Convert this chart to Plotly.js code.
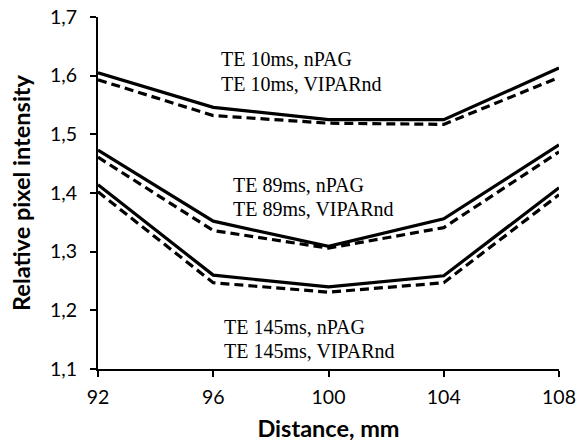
<!DOCTYPE html>
<html>
<head>
<meta charset="utf-8">
<script src="https://cdn.plot.ly/plotly-3.0.1.min.js"></script>
<style>
  html, body { margin: 0; padding: 0; background: #fff; }
  #chart { width: 584px; height: 443px; }
</style>
</head>
<body>
<div id="chart"></div>
<script>
// Relative pixel intensity profiles across the gel, per echo time and gel type
const distance = [92, 96, 100, 104, 108];

const te10_nPAG     = [1.605, 1.546, 1.525, 1.525, 1.613];
const te10_VIPARnd  = [1.593, 1.532, 1.519, 1.517, 1.597];
const te89_nPAG     = [1.473, 1.352, 1.309, 1.356, 1.482];
const te89_VIPARnd  = [1.461, 1.336, 1.306, 1.341, 1.470];
const te145_nPAG    = [1.414, 1.260, 1.240, 1.259, 1.409];
const te145_VIPARnd = [1.402, 1.247, 1.231, 1.247, 1.397];

const xTicks = [92, 96, 100, 104, 108];
const yTicks = [1.1, 1.2, 1.3, 1.4, 1.5, 1.6, 1.7];

const solid = { color: '#000', width: 3.2 };
const dashed = { color: '#000', width: 3.2, dash: '9px,5px' };

function line(y, style, name) {
  return { x: distance, y: y, mode: 'lines', line: style, name: name, hoverinfo: 'skip' };
}

const traces = [
  line(te10_nPAG, solid, 'TE 10ms, nPAG'),
  line(te10_VIPARnd, dashed, 'TE 10ms, VIPARnd'),
  line(te89_nPAG, solid, 'TE 89ms, nPAG'),
  line(te89_VIPARnd, dashed, 'TE 89ms, VIPARnd'),
  line(te145_nPAG, solid, 'TE 145ms, nPAG'),
  line(te145_VIPARnd, dashed, 'TE 145ms, VIPARnd')
];

const serif = { family: '"Liberation Serif", "Times New Roman", serif', size: 20, color: '#000' };
function label(text, x, y) {
  return { text: text, x: x, y: y, xref: 'x', yref: 'y', xanchor: 'left', yanchor: 'middle',
           showarrow: false, font: serif };
}

const layout = {
  width: 584,
  height: 443,
  margin: { l: 98, r: 25, t: 17, b: 74 },
  paper_bgcolor: '#fff',
  plot_bgcolor: '#fff',
  showlegend: false,
  separators: ',.',
  font: { family: 'Lato, "Open Sans", sans-serif', color: '#000' },
  xaxis: {
    range: [92, 108],
    tickvals: xTicks,
    ticktext: xTicks.map(String),
    showgrid: false,
    zeroline: false,
    showline: true,
    linecolor: '#000',
    linewidth: 2,
    ticks: 'outside',
    ticklen: 6,
    tickwidth: 2,
    tickcolor: '#000',
    ticklabelstandoff: 4,
    tickfont: { size: 19.5, color: '#000' },
    title: { text: '<b>Distance, mm</b>', font: { size: 23.5, color: '#000' }, standoff: 13 }
  },
  yaxis: {
    range: [1.1, 1.7],
    tickvals: yTicks,
    tickformat: '.1f',
    showgrid: false,
    zeroline: false,
    showline: true,
    linecolor: '#000',
    linewidth: 2,
    ticks: 'outside',
    ticklen: 6,
    tickwidth: 2,
    tickcolor: '#000',
    ticklabelstandoff: 9,
    tickfont: { size: 19.5, color: '#000' },
    title: { text: '<b>Relative pixel intensity</b>', font: { size: 23.5, color: '#000' }, standoff: 13 }
  },
  annotations: [
    label('TE 10ms, nPAG', 96.2, 1.628),
    label('TE 10ms, VIPARnd', 96.2, 1.586),
    label('TE 89ms, nPAG', 96.6, 1.413),
    label('TE 89ms, VIPARnd', 96.6, 1.372),
    label('TE 145ms, nPAG', 96.3, 1.172),
    label('TE 145ms, VIPARnd', 96.3, 1.131)
  ]
};

Plotly.newPlot('chart', traces, layout, { displayModeBar: false, staticPlot: true });
</script>
</body>
</html>
